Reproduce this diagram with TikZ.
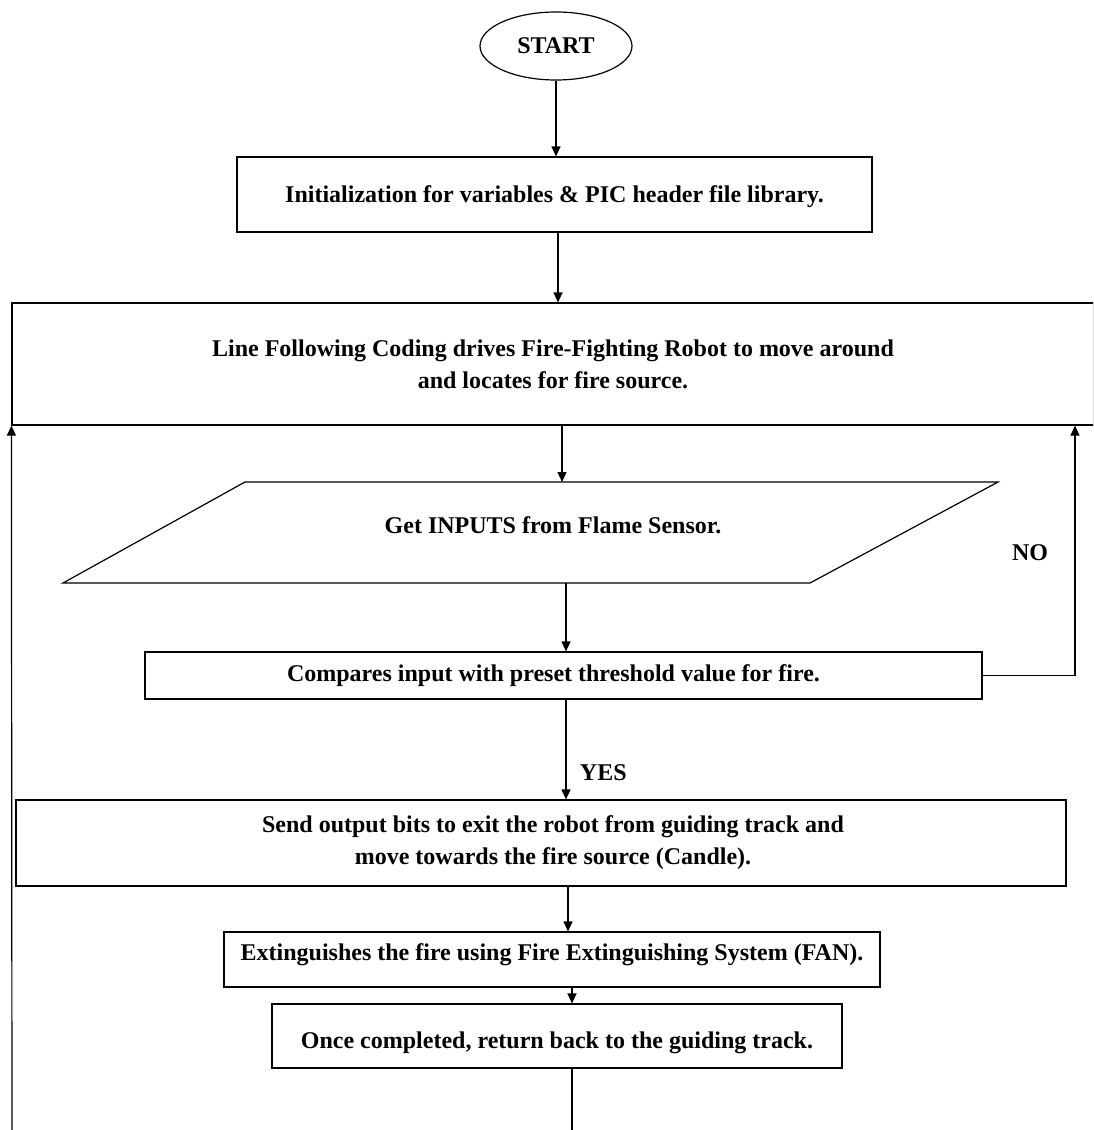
\documentclass[tikz,border=0pt]{standalone}
\usepackage{fontspec}
\setmainfont{Liberation Serif}
\usetikzlibrary{shapes, arrows.meta, positioning, calc}

\begin{document}
\begin{tikzpicture}[x=1pt, y=-1pt, line width=1.2pt,
    every node/.style={font=\fontsize{24}{32}\selectfont\bfseries},
    box/.style={rectangle, draw, align=center, inner sep=0pt},
    flow/.style={-{Triangle[length=10pt, width=9pt]}}]
    \useasboundingbox (0,0) rectangle (1093,1130);
    \clip (0,0) rectangle (1093,1130);

    \node[ellipse, draw, minimum width=152, minimum height=68, inner sep=0pt] (start) at (556,46) {START};
    \node[box, minimum width=635, minimum height=75, text height=22pt] (init) at (554.5,194.5) {Initialization for variables \& PIC header file library.};
    \node[box, minimum width=1082, minimum height=122] (line) at (553,364) {Line Following Coding drives Fire-Fighting Robot to move around\\ and locates for fire source.};

    % input parallelogram
    \draw (245,482) -- (998,482) -- (810,583) -- (63,583) -- cycle;
    \node (input) at (553,525) {Get INPUTS from Flame Sensor.};
    \coordinate (inTop) at (562,482);
    \coordinate (inBot) at (566,583);

    \node[box, minimum width=837, minimum height=47] (cmp) at (563.5,675.5) {Compares input with preset threshold value for fire.\hspace*{20pt}};
    \node[box, minimum width=1050, minimum height=86] (send) at (541,843) {\hspace*{24pt}Send output bits to exit the robot from guiding track and\\ \hspace*{24pt}move towards the fire source (Candle).};
    \node[box, minimum width=656, minimum height=55, text depth=14pt] (ext) at (552,959.5) {Extinguishes the fire using Fire Extinguishing System (FAN).};
    \node[box, minimum width=570, minimum height=64, text height=30pt] (done) at (557,1036) {Once completed, return back to the guiding track.};

    \draw[flow] (start.south) -- (start.south |- init.north);
    \draw[flow] (558,0 |- init.south) -- (558,0 |- line.north);
    \draw[flow] (inTop |- line.south) -- (inTop);
    \draw[flow] (inBot) -- (inBot |- cmp.north);
    \draw[flow] (566,0 |- cmp.south) -- (566,0 |- send.north) node[pos=0.73, right=10pt] (yes) {YES};
    \draw[flow] (568,0 |- send.south) -- (568,0 |- ext.north);
    \draw[flow] (572,0 |- ext.south) -- (572,0 |- done.north);

    % loop back on NO
    \coordinate (noTop) at (1075,0 |- line.south);
    \draw[flow] (cmp.east) -| (noTop);
    \node (no) at (1030,553) {NO};

    % loop back from the bottom
    \coordinate (loopBot) at (12,1140);
    \coordinate (doneBot) at (572,1140);
    \draw (572,0 |- done.south) -- (doneBot);
    \draw[flow] (loopBot) -- (line.south west);
\end{tikzpicture}
\end{document}
